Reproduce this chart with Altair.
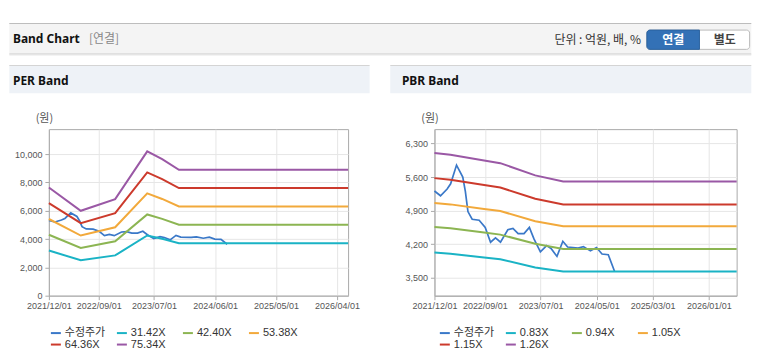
import altair as alt
import pandas as pd

# ------------------------------------------------------------------ data
price_dates = ["2021/12/01", "2022/01/03", "2022/02/08", "2022/02/27", "2022/03/31",
               "2022/05/04", "2022/05/18", "2022/06/01", "2022/06/24", "2022/08/01",
               "2022/09/03", "2022/10/02", "2022/10/29", "2022/11/25", "2023/01/04",
               "2023/02/01", "2023/03/01", "2023/04/02", "2023/05/01", "2023/05/26",
               "2023/06/30", "2023/08/03", "2023/08/27", "2023/09/28", "2023/10/30",
               "2023/11/25", "2024/01/21", "2024/02/19", "2024/03/28", "2024/04/30",
               "2024/05/30", "2024/07/03", "2024/08/06"]
price_vals = [5310, 5210, 5350, 5460, 5850,
              5600, 5300, 4880, 4720, 4700,
              4550, 4240, 4330, 4240, 4500,
              4530, 4420, 4420, 4550, 4310,
              4040, 4170, 4110, 3945, 4260,
              4140, 4120, 4150, 4060, 4130,
              3995, 3980, 3635]

per_dates = ["2021/12/01", "2022/05/25", "2022/11/30", "2023/05/25", "2023/08/15", "2023/11/15", "2026/06/01"]
per_3142 = [3190, 2502, 2846, 4254, 4025, 3712, 3712]
per_4240 = [4305, 3377, 3841, 5741, 5431, 5009, 5009]
per_5338 = [5420, 4251, 4835, 7227, 6837, 6306, 6306]
per_6436 = [6535, 5126, 5830, 8714, 8244, 7603, 7603]
per_7534 = [7650, 6000, 6824, 10200, 9650, 8900, 8900]

pbr_dates = ["2021/12/01", "2022/02/26", "2022/08/28", "2022/11/24", "2023/06/02", "2023/11/01", "2026/06/01"]
pbr_083 = [4026, 4001, 3922, 3884, 3715, 3628, 3628]
pbr_094 = [4559, 4532, 4442, 4399, 4207, 4100, 4100]
pbr_105 = [5060, 5030, 4935, 4890, 4680, 4575, 4575]
pbr_115 = [5578, 5544, 5434, 5382, 5147, 5027, 5027]
pbr_126 = [6100, 6065, 5945, 5890, 5635, 5507, 5507]

per_names = ["수정주가", "31.42X", "42.40X", "53.38X", "64.36X", "75.34X"]
pbr_names = ["수정주가", "0.83X", "0.94X", "1.05X", "1.15X", "1.26X"]
series_colors = ["#3a78c8", "#1ab3c5", "#8cb552", "#f2a93b", "#cc3a2c", "#9a58a5"]

per_xticks = ["2021/12/01", "2022/09/01", "2023/07/01", "2024/06/01", "2025/05/01", "2026/04/01"]
pbr_xticks = ["2021/12/01", "2022/09/01", "2023/07/01", "2024/05/01", "2025/03/01", "2026/01/01"]
x_domain = ["2021/12/01", "2026/06/01"]
per_yticks = [0, 2000, 4000, 6000, 8000, 10000]
pbr_yticks = [3500, 4200, 4900, 5600, 6300]
per_ydomain = [0, 11770]
pbr_ydomain = [3125, 6600]

FONT = "Liberation Sans, Noto Sans CJK KR, sans-serif"
KFONT = "Noto Sans CJK KR, sans-serif"
BFONT = "Noto Sans, Noto Sans CJK KR, sans-serif"


def to_dt(s):
    y, m, d = map(int, s.split("/"))
    return alt.DateTime(year=y, month=m, date=d)


def one():
    return alt.Data(values=[{"k": 1}])


def rect(x, x2, y, y2, fill, **kw):
    return alt.Chart(one()).mark_rect(fill=fill, **kw).encode(
        x=alt.value(x), x2=alt.value(x2), y=alt.value(y), y2=alt.value(y2))


def label(x, y, s, size, color, weight="normal", align="left", font=KFONT):
    return alt.Chart(one()).mark_text(
        align=align, baseline="middle", fontSize=size, color=color,
        fontWeight=weight, font=font).encode(
        x=alt.value(x), y=alt.value(y), text=alt.value(s))


def long_df(dates, names, vals):
    rows = []
    for n, vs in zip(names, vals):
        for d, v in zip(dates, vs):
            rows.append({"date": d, "value": v, "series": n})
    return pd.DataFrame(rows)


def panel(title, names, band_dates, bands, xticks, yticks, ydomain,
          panel_x0, panel_x1, title_x, legend_x):
    price_df = pd.DataFrame({"date": price_dates, "value": price_vals, "series": names[0]})
    band_df = long_df(band_dates, names[1:], bands)

    x = alt.X("date:T", title=None,
              scale=alt.Scale(domain=[to_dt(x_domain[0]), to_dt(x_domain[1])]),
              axis=alt.Axis(values=[to_dt(t) for t in xticks], format="%Y/%m/%d",
                            labelOverlap=False, labelFlush=False, tickSize=4,
                            labelPadding=2, labelFontSize=9, labelColor="#555",
                            gridColor="#e6e6e6", domainColor="#aaa", tickColor="#aaa"))
    y = alt.Y("value:Q",
              scale=alt.Scale(domain=ydomain, nice=False, zero=False),
              axis=alt.Axis(values=yticks, format=",d", tickSize=4, labelPadding=3,
                            labelFontSize=9, labelColor="#555", gridColor="#e6e6e6",
                            domainColor="#aaa", tickColor="#aaa",
                            title="(원)", titleAngle=0, titleX=-5, titleY=-10.5,
                            titleAlign="center", titleBaseline="middle",
                            titleFontWeight="normal", titleFontSize=11,
                            titleColor="#555", titleFont=KFONT))
    legend = alt.Legend(title=None, orient="none", legendX=legend_x, legendY=198.5,
                        direction="horizontal", columns=4, columnPadding=7.2,
                        rowPadding=0.5, symbolType="stroke", symbolSize=100,
                        symbolStrokeWidth=2, labelFontSize=11, labelFont=FONT,
                        labelColor="#333", labelOffset=3, gridAlign="all", padding=0)
    color = alt.Color("series:N", scale=alt.Scale(domain=names, range=series_colors),
                      legend=legend)

    decor = [
        rect(panel_x0, panel_x1, -64.3, -63.3, "#d4d4d4"),
        rect(panel_x0, panel_x1, -63.3, -36, "#eef2f7"),
        label(title_x, -48, title, 12, "#111", weight="bold", font=BFONT),
    ]
    price_line = alt.Chart(price_df).mark_line(strokeWidth=1.7).encode(x=x, y=y, color=color)
    band_lines = alt.Chart(band_df).mark_line(strokeWidth=2).encode(
        x=x, y=y, color=color, detail="series:N")
    return decor, price_line, band_lines


# left panel (PER)
ldecor, lprice, lbands = panel("PER Band", per_names, per_dates,
                               [per_3142, per_4240, per_5338, per_6436, per_7534],
                               per_xticks, per_yticks, per_ydomain,
                               -39.7, 321.6, -36, 1)
top = [
    rect(-39.7, 704.3, -106.3, -105.3, "#bdbdbd"),
    rect(-39.7, 704.3, -105.3, -75.8, "#f4f4f4"),
    rect(-39.7, 704.3, -75.8, -74.8, "#c8c8c8"),
    rect(-39.7, 704.3, -74.8, -73.8, "#e8e8e8"),
    label(-36, -90, "Band Chart", 12, "#111", weight="bold", font=BFONT),
    label(40.3, -90, "[연결]", 12, "#888"),
    label(593.8, -89.5, "단위 : 억원, 배, %", 12, "#333", align="right"),
    rect(599.6, 702.6, -99.3, -80, "#ffffff", stroke="#bbbbbb", strokeWidth=1, cornerRadius=3),
    rect(599.6, 652.3, -99.3, -80, "#3371b6", stroke="#2b62a0", strokeWidth=1,
         cornerRadiusTopLeft=3, cornerRadiusBottomLeft=3),
    label(626, -89.5, "연결", 12, "#ffffff", weight="bold", align="center"),
    label(677.6, -89.5, "별도", 12, "#444", weight="bold", align="center"),
]
left = alt.layer(*top, *ldecor, lprice, lbands).properties(width=300, height=167)

# right panel (PBR)
rdecor, rprice, rbands = panel("PBR Band", pbr_names, pbr_dates,
                               [pbr_083, pbr_094, pbr_105, pbr_115, pbr_126],
                               pbr_xticks, pbr_yticks, pbr_ydomain,
                               -44.3, 317.7, -32.6, 4.4)
right = alt.layer(*rdecor, rprice, rbands).properties(width=303, height=167)

chart = (
    alt.hconcat(left, right, spacing=86.6)
    .resolve_scale(color="independent")
    .resolve_legend(color="independent")
    .properties(bounds="flush", padding={"left": 0, "top": 14, "right": 0, "bottom": 0},
                background="white")
    .configure_view(stroke="#aaaaaa", strokeWidth=1)
    .configure_axis(labelFont=FONT)
)

chart.save("out.html", embed_options={"renderer": "svg", "actions": False})
